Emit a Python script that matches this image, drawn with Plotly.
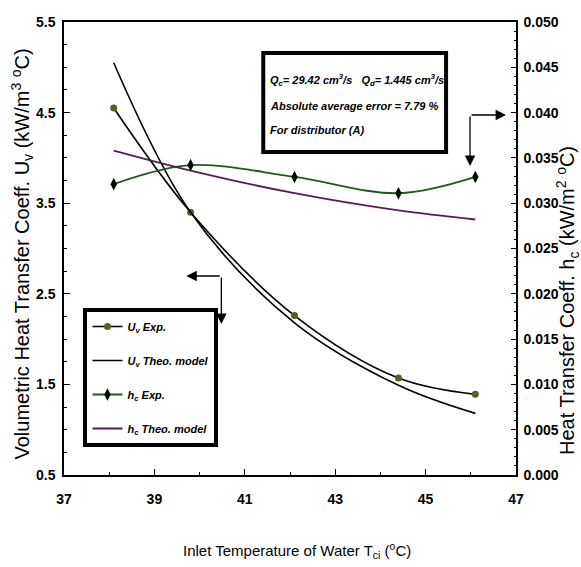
import plotly.graph_objects as go

# ---- data ----
temp_exp = [38.1, 39.8, 42.1, 44.4, 46.1]
uv_exp = [4.55, 3.40, 2.26, 1.57, 1.39]
uv_theo = [5.05, 3.40, 2.18, 1.49, 1.18]
hc_exp = [0.0321, 0.0342, 0.0329, 0.0311, 0.0329]
hc_theo = [0.0358, 0.0336, 0.0311, 0.0292, 0.0282]

x_ticks = [37, 39, 41, 43, 45, 47]
uv_ticks = [0.5, 1.5, 2.5, 3.5, 4.5, 5.5]
hc_ticks = [0.000, 0.005, 0.010, 0.015, 0.020, 0.025, 0.030, 0.035, 0.040, 0.045, 0.050]

FONT = "Liberation Sans, Arial, sans-serif"

OLIVE = "#5c5c1e"
GREEN = "#1d5a1d"
PURPLE = "#561c56"

# plot area in pixels
L, R, T, B = 63.5, 516.0, 22.0, 475.0
W, H = 581, 567

fig = go.Figure()

fig.add_trace(go.Scatter(
    x=temp_exp, y=uv_exp, mode="lines+markers", name="<b><i>U<sub>v</sub> Exp.</i></b>",
    line=dict(color="black", width=1.6, shape="spline"),
    marker=dict(color=OLIVE, size=7, symbol="circle"),
    legendgroup="a"))
fig.add_trace(go.Scatter(
    x=temp_exp, y=uv_theo, mode="lines", name="<b><i>U<sub>v</sub> Theo. model</i></b>",
    line=dict(color="black", width=1.6, shape="spline"),
    legendgroup="b"))
fig.add_trace(go.Scatter(
    x=temp_exp, y=hc_exp, mode="lines+markers", name="<b><i>h<sub>c</sub> Exp.</i></b>",
    line=dict(color=GREEN, width=1.8, shape="spline"),
    marker=dict(color="black", size=9, symbol="diamond-tall"),
    yaxis="y2", legendgroup="c"))
fig.add_trace(go.Scatter(
    x=temp_exp, y=hc_theo, mode="lines", name="<b><i>h<sub>c</sub> Theo. model</i></b>",
    line=dict(color=PURPLE, width=1.8, shape="spline"),
    yaxis="y2", legendgroup="d"))

def dx(px):
    return 37 + (px - L) / ((R - L) / 10)
def dy(py):
    return 5.5 - (py - T) / ((B - T) / 5)
def px_x(px):
    return (px - L) / (R - L)
def px_y(py):
    return (B - py) / (B - T)

arrows = [
    ((186, 276), (221, 276)),
    ((221, 324), (221, 276)),
    ((506, 115), (470, 115)),
    ((470, 166), (470, 115)),
]
for (tx, ty), (sx, sy) in arrows:
    fig.add_annotation(x=dx(tx), y=dy(ty), ax=dx(sx), ay=dy(sy), xref="x", yref="y",
                       axref="x", ayref="y", text="", showarrow=True, arrowhead=2,
                       arrowsize=1.6, arrowwidth=1.3, arrowcolor="black", standoff=0)

# info box
fig.add_shape(type="rect", xref="x", yref="y", x0=dx(263), x1=dx(446), y0=dy(53), y1=dy(152),
              line=dict(color="black", width=4), fillcolor="white", layer="above")
info_lines = [
    ("<b><i>Q<sub>c</sub>= 29.42 cm<sup>3</sup>/s&nbsp;&nbsp;&nbsp;Q<sub>d</sub>= 1.445 cm<sup>3</sup>/s</i></b>", 80),
    ("<b><i>Absolute average error = 7.79 %</i></b>", 106),
    ("<b><i>For distributor (A)</i></b>", 130),
]
for txt, py in info_lines:
    fig.add_annotation(x=dx(268), y=dy(py), xref="x", yref="y", xanchor="left", yanchor="middle",
                       align="left", showarrow=False, text=txt,
                       font=dict(family=FONT, size=11, color="black"))

# axis titles as annotations
fig.add_annotation(x=px_x(22), y=px_y(254), xref="paper", yref="paper", textangle=-90,
                   xanchor="center", yanchor="middle", showarrow=False,
                   text="Volumetric Heat Transfer Coeff. U<sub>v</sub> (kW/m<sup>3</sup> <sup>o</sup>C)",
                   font=dict(family=FONT, size=20, color="black"))
fig.add_annotation(x=px_x(567), y=px_y(300), xref="paper", yref="paper", textangle=-90,
                   xanchor="center", yanchor="middle", showarrow=False,
                   text="Heat Transfer Coeff. h<sub>c</sub> (kW/m<sup>2</sup> <sup>o</sup>C)",
                   font=dict(family=FONT, size=20, color="black"))
fig.add_annotation(x=px_x(297), y=px_y(550), xref="paper", yref="paper",
                   xanchor="center", yanchor="middle", showarrow=False,
                   text="Inlet Temperature of Water T<sub>ci</sub> (<sup>o</sup>C)",
                   font=dict(family=FONT, size=15, color="black"))

tickfont = dict(family=FONT, size=14, color="black", weight="bold")

fig.update_layout(
    width=W, height=H,
    margin=dict(l=L, r=W - R, t=T, b=H - B, autoexpand=False),
    paper_bgcolor="white", plot_bgcolor="white",
    showlegend=True,
    legend=dict(x=px_x(83), y=px_y(308), xanchor="left", yanchor="top",
                bordercolor="black", borderwidth=4, bgcolor="white",
                font=dict(family=FONT, size=11, color="black"),
                traceorder="grouped", tracegroupgap=15, itemwidth=30),
    xaxis=dict(range=[37, 47], tickvals=x_ticks, ticks="inside", ticklen=6, tickcolor="black",
               showline=True, linecolor="black", linewidth=1.5, mirror=True, showgrid=False,
               zeroline=False, automargin=False, tickfont=tickfont, ticklabelstandoff=10,
               minor=dict(dtick=1, tick0=37, ticks="inside", ticklen=3, tickcolor="black")),
    yaxis=dict(range=[0.5, 5.5], tickvals=uv_ticks, ticks="inside", ticklen=6, tickcolor="black",
               showline=True, linecolor="black", linewidth=1.5, showgrid=False, zeroline=False,
               automargin=False, tickfont=tickfont, ticklabelstandoff=4,
               minor=dict(dtick=0.25, tick0=0.5, ticks="inside", ticklen=3, tickcolor="black")),
    yaxis2=dict(range=[0, 0.05], tickvals=hc_ticks, tickformat=".3f", overlaying="y", side="right",
                ticks="inside", ticklen=5, tickcolor="black",
                showline=True, linecolor="black", linewidth=1.5, showgrid=False, zeroline=False,
                automargin=False, tickfont=tickfont, ticklabelstandoff=3,
                minor=dict(dtick=0.001, tick0=0, ticks="inside", ticklen=2, tickcolor="black")),
)

fig.write_html("out.html", config={"displayModeBar": False},
               post_script="document.body.style.margin='0px';")
